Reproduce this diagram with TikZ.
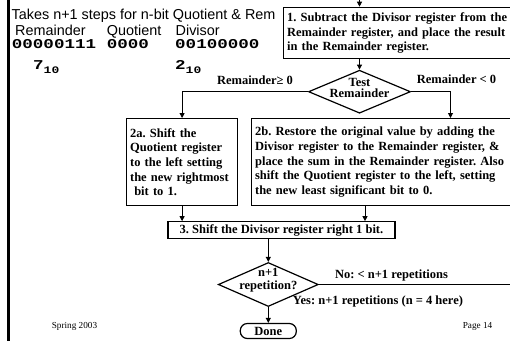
\documentclass[tikz,border=0pt]{standalone}
\usepackage{fontspec}
\setmainfont{Liberation Serif}
\newfontfamily\arialf{Liberation Sans}
\newfontfamily\courf[FakeStretch=1.3]{Liberation Mono}
\usetikzlibrary{arrows.meta,shapes.geometric}
\begin{document}
\frenchspacing
\begin{tikzpicture}[x=1pt,y=-1pt,
  box/.style={draw,line width=1.2pt,fill=white,inner xsep=3.5pt,inner ysep=0pt,
    font=\bfseries\fontsize{12.5}{14.6}\selectfont,align=left},
  dia/.style={draw,line width=1.2pt,shape=diamond,inner sep=0pt,fill=white},
  arr/.style={line width=0.9pt,-{Triangle[length=5pt,width=5pt]}},
  plain/.style={line width=0.9pt},
  lbl/.style={font=\bfseries\fontsize{12.5}{14.6}\selectfont,inner sep=0pt},
  sans/.style={font=\arialf\fontsize{14.4}{16}\selectfont,inner sep=0pt,anchor=base west},
  mono/.style={font=\courf\bfseries\fontsize{13.5}{15}\selectfont,inner sep=0pt,anchor=base west},
  foot/.style={font=\fontsize{9.2}{11}\selectfont,inner sep=0pt}]
\useasboundingbox (0,0) rectangle (510,341);
\clip (0,0) rectangle (510,341);
\fill[white] (0,0) rectangle (510,341);
\draw[line width=2.5pt] (8.3,0) -- (8.3,341);

% header texts
\node[sans] (title) at (11.5,19.3) {Takes n+1 steps for n-bit Quotient \& Rem};
\node[sans] (hrem) at (15,35.5) {Remainder};
\node[sans] (hquo) at (106.7,35.5) {Quotient};
\node[sans] (hdiv) at (175.5,35.5) {Divisor};
\node[mono] (vrem) at (11.7,48) {00000111};
\node[mono] (vquo) at (106.7,48) {0000};
\node[mono] (vdiv) at (175,48) {00100000};
\node[mono] (seven) at (33,69.3) {7\raisebox{-4.5pt}{\fontsize{10}{12}\selectfont 10}};
\node[mono] (two) at (175,69.3) {2\raisebox{-4.5pt}{\fontsize{10}{12}\selectfont 10}};

% boxes
\node[box,anchor=north west,text width=240pt,minimum height=51.5pt] (s1) at (283,6.7)
  {1. Subtract the Divisor register from the\\Remainder register, and place the result\\in the Remainder register.};
\node[dia,minimum width=102pt,minimum height=43pt] (test) at (359.5,91.7) {};
\node[lbl,align=center,font=\bfseries\fontsize{12.5}{11}\selectfont] (testtxt) at ([yshift=3.5pt]test.center) {Test\\Remainder};

\node[box,anchor=north west,text width=104pt,minimum height=87pt] (a2) at (126,118)
  {2a. Shift the\\Quotient register\\to the left setting\\the new rightmost\\\ bit to 1.};
\node[box,anchor=north west,text width=272pt,minimum height=87pt] (b2) at (251,118)
  {2b. Restore the original value by adding the\\Divisor register to the Remainder register, \&\\place the sum in the Remainder register. Also\\shift the Quotient register to the left, setting\\the new least significant bit to 0.};

\node[box,align=center,minimum width=227pt,minimum height=16.5pt,inner xsep=0pt] (s3) at (281.5,230)
  {3. Shift the Divisor register right 1 bit.};

\node[dia,minimum width=100pt,minimum height=44pt] (rep) at (268.3,284.5) {};
\node[lbl,align=center,font=\bfseries\fontsize{12.5}{13.3}\selectfont] (reptxt) at ([yshift=4.3pt]rep.center) {n+1\\repetition?};

\node[draw,line width=1.2pt,rounded corners=7pt,minimum width=56pt,minimum height=15pt,inner sep=0pt,
  font=\bfseries\fontsize{12.5}{14}\selectfont] (done) at (268.3,331) {Done};

% labels
\node[lbl] (lge) at (255,80) {Remainder≥ 0};
\node[lbl] (llt) at (456.5,79) {Remainder < 0};
\node[lbl] (lno) at (391.5,275) {No: < n+1 repetitions};
\node[lbl] (lyes) at (378,301) {Yes: n+1 repetitions (n = 4 here)};
\node[foot] (spring) at (74.5,326) {Spring 2003};
\node[foot] (page) at (477.5,326) {Page 14};

% connectors
\coordinate (start) at (359.5,-2);
\coordinate (noend) at (515,284.5);
\draw[arr] (start) -- (start |- s1.north);
\draw[arr] (test.north |- s1.south) -- (test.north);
\draw[arr] (test.west) -| (a2.north);
\draw[arr] (test.east) -| ([xshift=199.5pt]b2.north west);
\draw[arr] (a2.south) -- (a2.south |- s3.north);
\draw[arr] ([xshift=114pt]b2.south west) -- ([xshift=114pt]b2.south west |- s3.north);
\draw[arr] (rep.north |- s3.south) -- (rep.north);
\draw[plain] (rep.east) -- (noend);
\draw[arr] (rep.south) -- (done.north);
\end{tikzpicture}
\end{document}
